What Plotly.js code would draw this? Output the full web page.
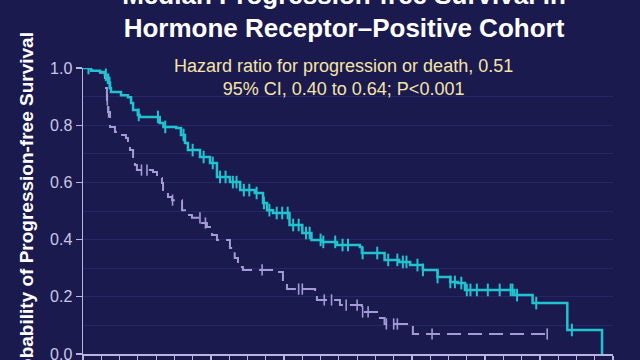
<!DOCTYPE html>
<html>
<head>
<meta charset="utf-8">
<script src="https://cdn.plot.ly/plotly-3.0.1.min.js"></script>
<style>
html,body{margin:0;padding:0;background:#1b1a4e;overflow:hidden;}
#chart{width:640px;height:360px;}
</style>
</head>
<body>
<div id="chart"></div>
<script>
// Trastuzumab deruxtecan arm (cyan) - step points (months, probability)
var tdxdTime = [0, 0.44, 0.93, 1.2, 1.37, 1.48, 1.53, 2.08, 2.46, 2.63, 2.74, 3.0, 3.1, 4.2, 4.4, 5.1, 5.36, 5.58, 5.74, 6.4, 6.95, 7.33, 8.04, 8.6, 9.4, 9.85, 10.07, 10.4, 11.3, 12.0, 12.5, 13.1, 13.9, 15.15, 15.26, 16.5, 17.3, 17.9, 18.6, 19.4, 20.1, 20.5, 20.9, 23.6, 24.6, 26.5, 28.4];
var tdxdSurv = [1.0, 0.99, 0.986, 0.976, 0.948, 0.93, 0.916, 0.905, 0.898, 0.878, 0.853, 0.836, 0.829, 0.808, 0.794, 0.79, 0.766, 0.738, 0.713, 0.689, 0.668, 0.619, 0.601, 0.573, 0.563, 0.528, 0.503, 0.493, 0.451, 0.423, 0.399, 0.392, 0.381, 0.374, 0.353, 0.329, 0.322, 0.311, 0.294, 0.269, 0.252, 0.248, 0.224, 0.206, 0.178, 0.084, 0.0];
var tdxdCensor = [0.3, 1.25, 1.45, 3.05, 4.1, 4.5, 5.5, 6.0, 6.6, 7.1, 7.5, 7.8, 8.2, 8.4, 8.8, 9.1, 9.5, 9.9, 10.2, 10.6, 10.9, 11.2, 11.5, 11.8, 12.2, 12.4, 13.0, 13.15, 13.8, 14.2, 14.5, 15.3, 16.1, 16.7, 17.2, 17.5, 17.7, 18.3, 18.6, 19.4, 20.1, 20.35, 20.7, 21.0, 21.2, 21.55, 22.15, 22.8, 23.4, 23.5, 23.75, 24.8, 26.75];

// Physician's choice arm (lavender dashed)
var pcTime = [0, 0.44, 0.93, 1.2, 1.26, 1.31, 1.37, 1.48, 1.75, 2.02, 2.35, 2.46, 2.57, 2.74, 2.84, 2.95, 3.83, 4.05, 4.32, 4.38, 4.65, 4.87, 5.42, 5.58, 5.96, 6.5, 6.78, 7.06, 7.33, 8.04, 8.3, 8.48, 8.75, 10.67, 10.94, 11.16, 12.7, 12.8, 14.06, 15.26, 16.25, 16.5, 18.05, 25.4];
var pcSurv = [1.0, 0.99, 0.983, 0.965, 0.93, 0.888, 0.846, 0.794, 0.776, 0.766, 0.755, 0.741, 0.713, 0.689, 0.661, 0.643, 0.636, 0.615, 0.598, 0.573, 0.549, 0.538, 0.503, 0.486, 0.476, 0.458, 0.444, 0.416, 0.399, 0.371, 0.336, 0.304, 0.294, 0.287, 0.252, 0.227, 0.206, 0.189, 0.171, 0.147, 0.126, 0.105, 0.07, 0.07];
var pcCensor = [1.33, 1.4, 3.2, 3.5, 4.9, 6.4, 6.7, 9.8, 11.8, 12.0, 13.2, 13.6, 14.4, 15.0, 15.3, 15.6, 16.6, 17.0, 17.2, 19.1, 25.4];

var xTicks = [];
for (var i = 0; i <= 29; i++) xTicks.push(i);
var yTicks = [0, 0.2, 0.4, 0.6, 0.8, 1.0];
var yTickText = ['0.0', '0.2', '0.4', '0.6', '0.8', '1.0'];

function stepAt(times, surv, t) {
  var v = surv[0];
  for (var k = 0; k < times.length; k++) { if (times[k] <= t) v = surv[k]; }
  return v;
}

var cyan = '#20c3d0';
var lav = '#a49ad8';

var traces = [
  {x: pcTime, y: pcSurv, type: 'scatter', mode: 'lines', line: {shape: 'hv', color: lav, width: 2, dash: '14px,7px'}, hoverinfo: 'skip'},
  {x: pcCensor, y: pcCensor.map(function(t){return stepAt(pcTime, pcSurv, t);}), type: 'scatter', mode: 'markers',
   marker: {symbol: 'line-ns', size: 8, line: {color: lav, width: 1.6}}, hoverinfo: 'skip'},
  {x: tdxdTime, y: tdxdSurv, type: 'scatter', mode: 'lines', line: {shape: 'hv', color: cyan, width: 2.5}, hoverinfo: 'skip'},
  {x: tdxdCensor, y: tdxdCensor.map(function(t){return stepAt(tdxdTime, tdxdSurv, t);}), type: 'scatter', mode: 'markers',
   marker: {symbol: 'line-ns', size: 9, line: {color: cyan, width: 2}}, hoverinfo: 'skip'}
];

var axisColor = '#b9b5de';
var layout = {
  width: 640, height: 360,
  paper_bgcolor: '#1b1a4e', plot_bgcolor: '#1b1a4e',
  showlegend: false,
  margin: {l: 83, r: 27, t: 68, b: 6, pad: 0},
  font: {family: 'Arial, "Liberation Sans", sans-serif', color: '#ffffff'},
  title: {
    text: '<b>Median Progression-free Survival in<br>Hormone Receptor–Positive Cohort</b>',
    font: {size: 26, color: '#ffffff'},
    x: 0.5375, xanchor: 'center', xref: 'container',
    y: 0.99, yanchor: 'middle', yref: 'container'
  },
  xaxis: {
    range: [0, 29], tickvals: xTicks, ticks: 'outside', ticklen: 6, tickwidth: 1.2, tickcolor: axisColor,
    showline: true, linecolor: axisColor, linewidth: 1.5, showgrid: false, zeroline: false,
    showticklabels: false, fixedrange: true
  },
  yaxis: {
    range: [0, 1.0], tickvals: yTicks, ticktext: yTickText, ticks: 'outside', ticklen: 6, tickwidth: 1.2, tickcolor: axisColor,
    showline: true, linecolor: axisColor, linewidth: 1.5, zeroline: false,
    showgrid: true, gridcolor: '#272667', gridwidth: 1,
    minor: {dtick: 0.1, showgrid: true, gridcolor: '#272667', gridwidth: 1, ticks: ''},
    ticklabeloverflow: 'allow',
    tickfont: {size: 16, color: '#c9c7e6'}, fixedrange: true
  },
  annotations: [
    {text: 'Hazard ratio for progression or death, 0.51<br>95% CI, 0.40 to 0.64; P&lt;0.001',
     xref: 'paper', yref: 'paper', x: (343 - 83) / 530, y: (354 - 77) / 286, xanchor: 'center', yanchor: 'middle',
     showarrow: false, align: 'center', font: {size: 18, color: '#f4e4a8'}},
    {text: '<b>Probability of Progression-free Survival</b>',
     xref: 'paper', yref: 'paper', x: (26 - 83) / 530, y: 0.5, xanchor: 'center', yanchor: 'middle', textangle: -90,
     showarrow: false, font: {size: 19, color: '#ffffff'}}
  ]
};

Plotly.newPlot('chart', traces, layout, {staticPlot: true, displayModeBar: false});
</script>
</body>
</html>
